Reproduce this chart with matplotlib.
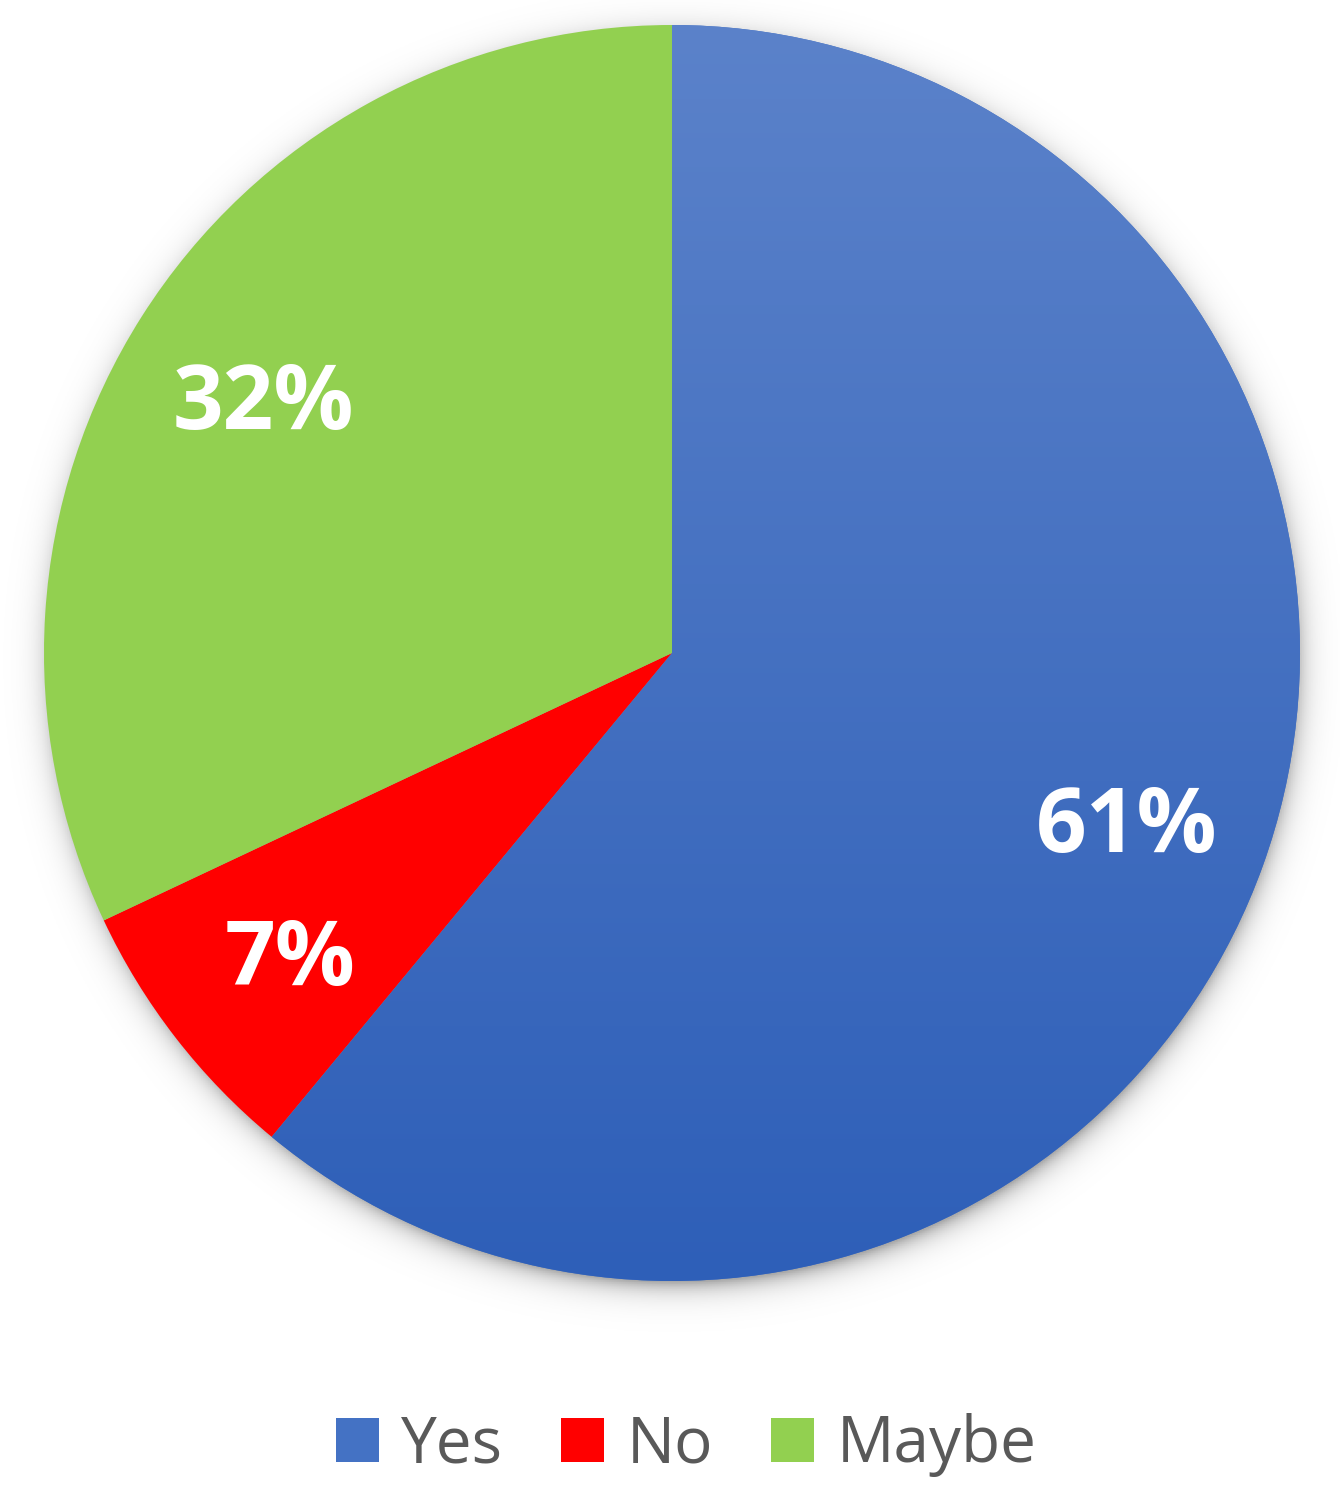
import matplotlib.pyplot as plt
import numpy as np
from matplotlib.patches import Patch

labels = ['Yes', 'No', 'Maybe']
values = [61, 7, 32]
colors = ['#4472C4', '#FF0000', '#92D050']

W, H = 1340, 1499
cx, cy, R = 672, 653, 628

fig = plt.figure(figsize=(W / 100, H / 100), dpi=100)
ax = fig.add_axes([0, 0, 1, 1])
ax.set_xlim(-cx / R, (W - cx) / R)
ax.set_ylim(-(H - cy) / R, cy / R)
ax.axis('off')

# soft shadow behind the pie
x0, x1 = ax.get_xlim()
y0, y1 = ax.get_ylim()
gx, gy = np.meshgrid(np.linspace(x0, x1, 600), np.linspace(y1, y0, 670))
d = np.hypot(gx - 0.004, gy + 0.012)
alpha = np.where(d > 0.99, 0.35 * np.exp(-(d - 0.99) / 0.018), 0.35)
shadow = np.zeros(gx.shape + (4,))
shadow[..., 3] = alpha
ax.imshow(shadow, extent=(x0, x1, y0, y1), zorder=0, aspect='auto')

wedges, texts, autotexts = ax.pie(values, colors=colors, startangle=90, counterclock=False,
                                  radius=1, autopct='%d%%', pctdistance=0.77,
                                  textprops=dict(color='white', fontsize=64, fontweight='bold',
                                                 family='Open Sans'),
                                  wedgeprops=dict(linewidth=0))
for w in wedges:
    w.set_zorder(1)
for t in autotexts:
    t.set_zorder(5)
    px, py = t.get_position()
    t.set_position((px, py - 0.02))

# vertical gradient on the Yes slice
grad = np.linspace(0, 1, 256)[:, None]
top = np.array([0x5B, 0x82, 0xCA]) / 255
bot = np.array([0x2E, 0x5F, 0xB8]) / 255
img = top[None, None, :] * (1 - grad[..., None]) + bot[None, None, :] * grad[..., None]
img = np.repeat(img, 2, axis=1)
im = ax.imshow(img, extent=(-1, 1, -1, 1), zorder=2, aspect='auto')
im.set_clip_path(wedges[0])
ax.set_xlim(x0, x1)
ax.set_ylim(y0, y1)

handles = [Patch(facecolor=c, edgecolor='none', label=l) for c, l in zip(colors, labels)]
leg = fig.legend(handles=handles, loc='center', bbox_to_anchor=(0.512, 0.036), ncol=3,
                 frameon=False, prop=dict(family='Open Sans', size=46),
                 handlelength=0.68, handleheight=0.68, handletextpad=0.35, columnspacing=0.9)
for t in leg.get_texts():
    t.set_color('#595959')

fig.savefig('out.png', dpi=100)
